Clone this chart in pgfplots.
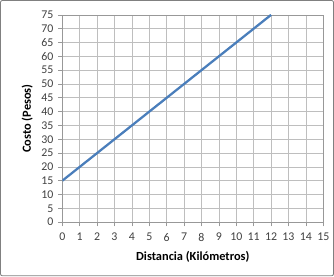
\documentclass[border=0pt]{standalone}
\usepackage{pgfplots}
\pgfplotsset{compat=1.18}
\usepackage{fontspec}
\setmainfont{Carlito}
\definecolor{linea}{RGB}{74,126,187}
\definecolor{grilla}{RGB}{190,190,190}
\definecolor{texto}{RGB}{64,64,64}
\begin{document}
\begin{tikzpicture}
\begin{axis}[
  at={(0,0)}, anchor=south west,
  scale only axis, width=253pt, height=201pt,
  xmin=0, xmax=15, ymin=0, ymax=75,
  xtick={0,1,...,15}, ytick={0,5,...,75},
  grid=major, major grid style={grilla, line width=0.6pt},
  axis line style={draw=grilla!80!black, line width=0.6pt},
  tick style={grilla!80!black, line width=0.6pt},
  tick align=outside, major tick length=4pt,
  xtick pos=bottom, ytick pos=left,
  /pgf/number format/assume math mode=true,
  tick label style={font=\fontsize{11.5}{13}\selectfont, text=texto},
  xticklabel style={yshift=-3pt},
  yticklabel style={xshift=-1pt},
  xlabel={\textbf{Distancia (Kilómetros)}},
  ylabel={\textbf{Costo (Pesos)}},
  label style={font=\fontsize{12}{14}\selectfont, text=black},
  xlabel style={at={(axis description cs:0.5,0)}, anchor=center, yshift=-34pt},
  ylabel style={at={(axis description cs:0,0.5)}, anchor=center, yshift=34pt},
  clip=true,
]
\addplot[linea, line width=2.2pt] coordinates {(0,15) (12,75)};
\end{axis}
\draw[gray, line width=0.8pt, rounded corners=2pt] (-60pt,-52pt) rectangle (263pt,215pt);
\end{tikzpicture}
\end{document}
